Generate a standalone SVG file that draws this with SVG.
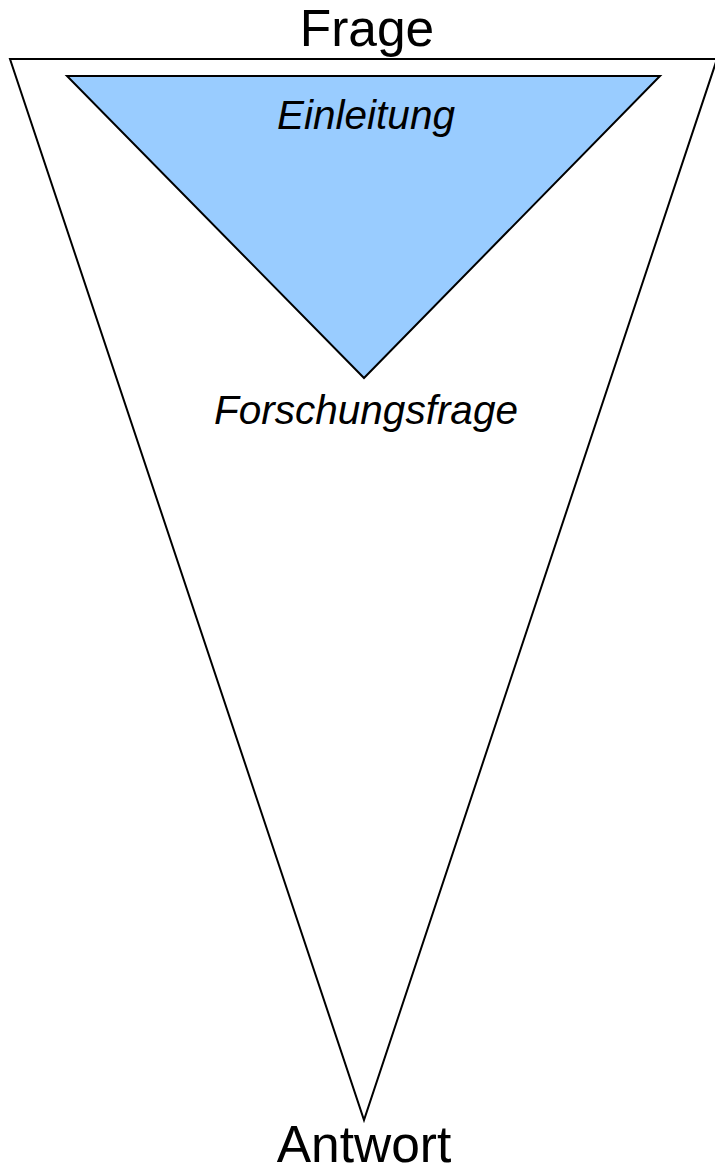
<svg xmlns="http://www.w3.org/2000/svg" width="715" height="1166" viewBox="0 0 715 1166">
<style>
.t{font-family:"Liberation Sans",Arial,sans-serif;fill:#000;text-anchor:middle}
.i{font-style:italic;font-size:40.5px}
.b{font-size:51.5px}
</style>
<rect width="715" height="1166" fill="#fff"/>
<g id="outer"><polygon points="10,59 717,59 364,1120" fill="#fff" stroke="#000" stroke-width="2"/></g>
<g id="inner"><polygon points="67,76 660,76 364,378" fill="#99CCFF" stroke="#000" stroke-width="2"/></g>
<g id="frage"><text class="t b" x="367" y="46">Frage</text></g>
<g id="einleitung"><text class="t i" x="366" y="129">Einleitung</text></g>
<g id="forschungsfrage"><text class="t i" x="366" y="424">Forschungsfrage</text></g>
<g id="antwort"><text class="t b" x="364" y="1162">Antwort</text></g>
<g id="connectors"/>
</svg>
